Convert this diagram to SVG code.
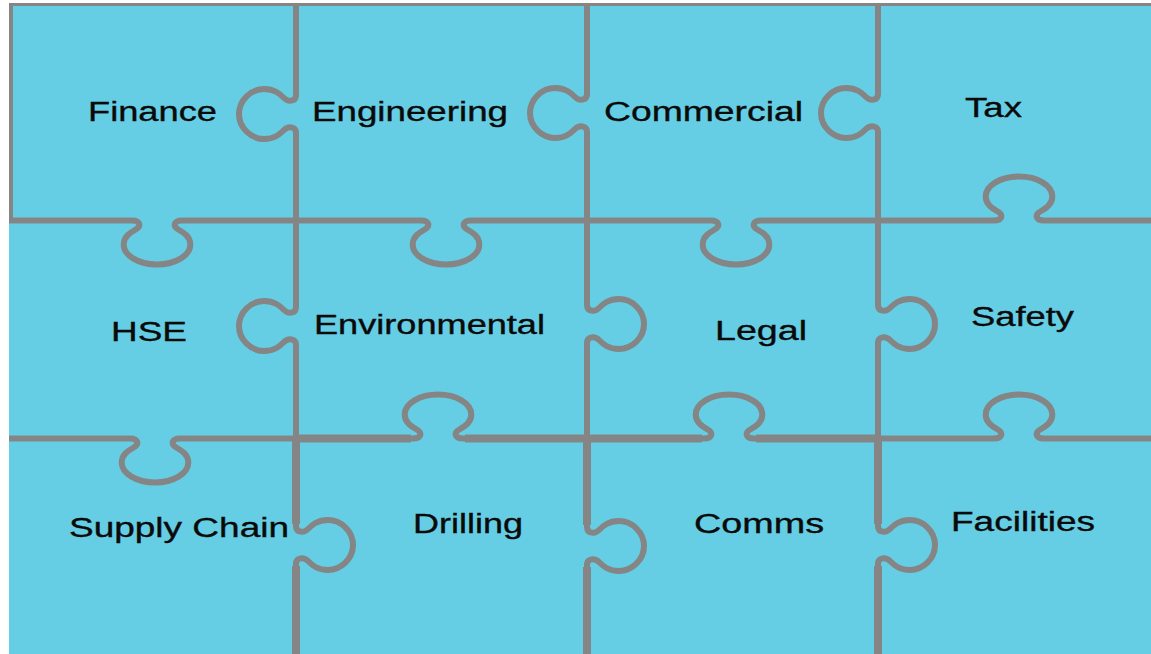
<svg xmlns="http://www.w3.org/2000/svg" width="1151" height="654" viewBox="0 0 1151 654">
<style>
.bg{fill:#66CEE4}
.ln{fill:none;stroke:#858585;stroke-width:6;stroke-linejoin:round}
.thk{fill:none;stroke:#858585;stroke-width:8}
.bd{fill:none;stroke:#858585}
.lbl{font-family:"Liberation Sans",Arial,sans-serif;font-size:27px;fill:#0a0a0a;stroke:#0a0a0a;stroke-width:0.35}
</style>
<rect x="0" y="0" width="1151" height="654" fill="#ffffff"/>
<rect class="bg" x="9" y="4" width="1142" height="650"/>
<g id="connectors">
<line class="bd" x1="9" y1="4.5" x2="1151" y2="4.5" stroke-width="3"/>
<line class="bd" x1="11" y1="4" x2="11" y2="221" stroke-width="4"/>
<path class="ln" d="M 296,4 L 296,95 C 296,102 288,102 284,98 C 280,94 274.7,89 264,89 C 251,89 239,100.2 239,114 C 239,127.8 251,139 264,139 C 274.7,139 280,134 284,130 C 288,126 296,126 296,133 L 296,307 C 296,314 288,314 284,310 C 280,306 274.7,301 264,301 C 251,301 239,312.2 239,326 C 239,339.8 251,351 264,351 C 274.7,351 280,346 284,342 C 288,338 296,338 296,345 L 296,526 C 296,533 304,533 308,529 C 312,525 317.3,520 328,520 C 341,520 353,531.2 353,545 C 353,558.8 341,570 328,570 C 317.3,570 312,565 308,561 C 304,557 296,557 296,564 L 296,654"/>
<path class="ln" d="M 587,4 L 587,94 C 587,101 579,101 575,97 C 571,93 565.7,88 555,88 C 542,88 530,99.2 530,113 C 530,126.8 542,138 555,138 C 565.7,138 571,133 575,129 C 579,125 587,125 587,132 L 587,305 C 587,312 595,312 599,308 C 603,304 608.3,299 619,299 C 632,299 644,310.2 644,324 C 644,337.8 632,349 619,349 C 608.3,349 603,344 599,340 C 595,336 587,336 587,343 L 587,527 C 587,534 595,534 599,530 C 603,526 608.3,521 619,521 C 632,521 644,532.2 644,546 C 644,559.8 632,571 619,571 C 608.3,571 603,566 599,562 C 595,558 587,558 587,565 L 587,654"/>
<path class="ln" d="M 878,4 L 878,94 C 878,101 870,101 866,97 C 862,93 856.7,88 846,88 C 833,88 821,99.2 821,113 C 821,126.8 833,138 846,138 C 856.7,138 862,133 866,129 C 870,125 878,125 878,132 L 878,305 C 878,312 886,312 890,308 C 894,304 899.3,299 910,299 C 923,299 935,310.2 935,324 C 935,337.8 923,349 910,349 C 899.3,349 894,344 890,340 C 886,336 878,336 878,343 L 878,526 C 878,533 886,533 890,529 C 894,525 899.3,520 910,520 C 923,520 935,531.2 935,545 C 935,558.8 923,570 910,570 C 899.3,570 894,565 890,561 C 886,557 878,557 878,564 L 878,654"/>
<path class="ln" d="M 9,220.5 L 131.7,220.5 C 141,220.5 141,226.5 135.7,229.5 C 130.4,232.5 123.7,236.5 123.7,244.5 C 123.7,255.5 138.6,264.5 157,264.5 C 175.4,264.5 190.3,255.5 190.3,244.5 C 190.3,236.5 183.6,232.5 178.3,229.5 C 173,226.5 173,220.5 182.3,220.5 L 420.7,220.5 C 430,220.5 430,226.5 424.7,229.5 C 419.4,232.5 412.7,236.5 412.7,244.5 C 412.7,255.5 427.6,264.5 446,264.5 C 464.4,264.5 479.3,255.5 479.3,244.5 C 479.3,236.5 472.6,232.5 467.3,229.5 C 462,226.5 462,220.5 471.3,220.5 L 710.7,220.5 C 720,220.5 720,226.5 714.7,229.5 C 709.4,232.5 702.7,236.5 702.7,244.5 C 702.7,255.5 717.6,264.5 736,264.5 C 754.4,264.5 769.3,255.5 769.3,244.5 C 769.3,236.5 762.6,232.5 757.3,229.5 C 752,226.5 752,220.5 761.3,220.5 L 993.7,220.5 C 1003,220.5 1003,214.5 997.7,211.5 C 992.4,208.5 985.7,204.5 985.7,196.5 C 985.7,185.5 1000.6,176.5 1019,176.5 C 1037.4,176.5 1052.3,185.5 1052.3,196.5 C 1052.3,204.5 1045.6,208.5 1040.3,211.5 C 1035,214.5 1035,220.5 1044.3,220.5 L 1151,220.5"/>
<path class="ln" d="M 9,438.5 L 129.7,438.5 C 139,438.5 139,444.5 133.7,447.5 C 128.4,450.5 121.7,454.5 121.7,462.5 C 121.7,473.5 136.6,482.5 155,482.5 C 173.4,482.5 188.3,473.5 188.3,462.5 C 188.3,454.5 181.6,450.5 176.3,447.5 C 171,444.5 171,438.5 180.3,438.5 L 412.7,438.5 C 422,438.5 422,432.5 416.7,429.5 C 411.4,426.5 404.7,422.5 404.7,414.5 C 404.7,403.5 419.6,394.5 438,394.5 C 456.4,394.5 471.3,403.5 471.3,414.5 C 471.3,422.5 464.6,426.5 459.3,429.5 C 454,432.5 454,438.5 463.3,438.5 L 703.7,438.5 C 713,438.5 713,432.5 707.7,429.5 C 702.4,426.5 695.7,422.5 695.7,414.5 C 695.7,403.5 710.6,394.5 729,394.5 C 747.4,394.5 762.3,403.5 762.3,414.5 C 762.3,422.5 755.6,426.5 750.3,429.5 C 745,432.5 745,438.5 754.3,438.5 L 993.7,438.5 C 1003,438.5 1003,432.5 997.7,429.5 C 992.4,426.5 985.7,422.5 985.7,414.5 C 985.7,403.5 1000.6,394.5 1019,394.5 C 1037.4,394.5 1052.3,403.5 1052.3,414.5 C 1052.3,422.5 1045.6,426.5 1040.3,429.5 C 1035,432.5 1035,438.5 1044.3,438.5 L 1151,438.5"/>
<path class="thk" d="M 296,438.5 V 524 M 296,566 V 654 M 587,438.5 V 525 M 587,567 V 654 M 878,438.5 V 524 M 878,566 V 654 M 296,438.5 H 411 M 465,438.5 H 702 M 756,438.5 H 878"/>
</g>
<g id="finance"><text class="lbl" x="88" y="121" textLength="129" lengthAdjust="spacingAndGlyphs">Finance</text></g>
<g id="engineering"><text class="lbl" x="312" y="121" textLength="196" lengthAdjust="spacingAndGlyphs">Engineering</text></g>
<g id="commercial"><text class="lbl" x="604" y="121" textLength="199" lengthAdjust="spacingAndGlyphs">Commercial</text></g>
<g id="tax"><text class="lbl" x="965" y="117" textLength="57" lengthAdjust="spacingAndGlyphs">Tax</text></g>
<g id="hse"><text class="lbl" x="111" y="341" textLength="76" lengthAdjust="spacingAndGlyphs">HSE</text></g>
<g id="environmental"><text class="lbl" x="314" y="334" textLength="231" lengthAdjust="spacingAndGlyphs">Environmental</text></g>
<g id="legal"><text class="lbl" x="715" y="340" textLength="92" lengthAdjust="spacingAndGlyphs">Legal</text></g>
<g id="safety"><text class="lbl" x="971" y="326" textLength="103" lengthAdjust="spacingAndGlyphs">Safety</text></g>
<g id="supply-chain"><text class="lbl" x="69" y="537" textLength="220" lengthAdjust="spacingAndGlyphs">Supply Chain</text></g>
<g id="drilling"><text class="lbl" x="413" y="533" textLength="110" lengthAdjust="spacingAndGlyphs">Drilling</text></g>
<g id="comms"><text class="lbl" x="694" y="533" textLength="130" lengthAdjust="spacingAndGlyphs">Comms</text></g>
<g id="facilities"><text class="lbl" x="951" y="531" textLength="144" lengthAdjust="spacingAndGlyphs">Facilities</text></g>
</svg>
